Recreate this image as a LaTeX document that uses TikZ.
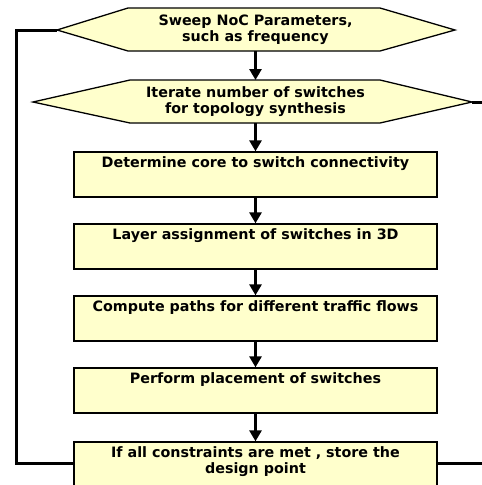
\documentclass[tikz,border=0pt]{standalone}
\usepackage{fontspec}
\setmainfont{DejaVu Sans}
\usetikzlibrary{arrows.meta}
\definecolor{paleyellow}{HTML}{FFFFCC}
\tikzset{
  shapefill/.style={draw=black, line width=1.3pt, fill=paleyellow, line join=miter},
  stepbox/.style={shapefill, rectangle, minimum width=363pt, minimum height=45pt, inner sep=0pt},
  label text/.style={font=\bfseries\fontsize{14.3}{16.5}\selectfont, align=center, inner sep=0pt},
  flow/.style={line width=3pt, -{Triangle[width=12pt,length=11pt]}},
  loopline/.style={line width=3pt, line join=miter}
}
\begin{document}
\begin{tikzpicture}[x=1pt, y=-1pt]
\useasboundingbox (0,0) rectangle (482,485);
\clip (0,0) rectangle (482,485);

% Sweep hexagon
\path[shapefill] (57,30) -- (128,8) -- (380,8) -- (455,30) -- (380,51) -- (128,51) -- cycle;
\coordinate (h1w) at (57,30);
\coordinate (h1s) at (255.5,51);
\node[label text] (h1) at (255.5,29.5) {Sweep NoC Parameters,\\such as frequency};

% Switch-count hexagon
\path[shapefill] (33,102) -- (130,80) -- (380,80) -- (472,102) -- (380,123) -- (130,123) -- cycle;
\coordinate (h2n) at (255.5,80);
\coordinate (h2s) at (255.5,123);
\coordinate (h2e) at (472,102);
\coordinate (h2out) at (490,102);
\node[label text] (h2) at (255.5,101.5) {Iterate number of switches\\for topology synthesis};

% Process steps
\node[stepbox] (b1) at (255.5,174.5) {};
\node[stepbox] (b2) at (255.5,246.5) {};
\node[stepbox] (b3) at (255.5,318.5) {};
\node[stepbox] (b4) at (255.5,390.5) {};
\node[stepbox] (b5) at (255.5,464.5) {};

\node[label text, anchor=north] (t1) at ([yshift=-5.5pt]b1.north) {Determine core to switch connectivity};
\node[label text, anchor=north] (t2) at ([yshift=-5.5pt]b2.north) {Layer assignment of switches in 3D};
\node[label text, anchor=north] (t3) at ([yshift=-5.5pt]b3.north) {Compute paths for different traffic flows};
\node[label text, anchor=north] (t4) at ([yshift=-5.5pt]b4.north) {Perform placement of switches};
\node[label text, anchor=north] (t5) at ([yshift=-5pt]b5.north) {If all constraints are met , store the\\design point};

% Downward flow
\draw[flow] (h1s) -- (h2n);
\draw[flow] (h2s) -- (b1.north);
\draw[flow] (b1.south) -- (b2.north);
\draw[flow] (b2.south) -- (b3.north);
\draw[flow] (b3.south) -- (b4.north);
\draw[flow] (b4.south) -- (b5.north);

% Feedback lines
\coordinate (b5w) at (b5.west |- 0,463);
\coordinate (b5e) at (b5.east |- 0,463);
\coordinate (b5out) at (490,463);
\draw[loopline] (h1w) -- (16,30) -- (16,463) -- (b5w);
\draw[loopline] (h2e) -- (h2out);
\draw[loopline] (b5e) -- (b5out);
\end{tikzpicture}
\end{document}
